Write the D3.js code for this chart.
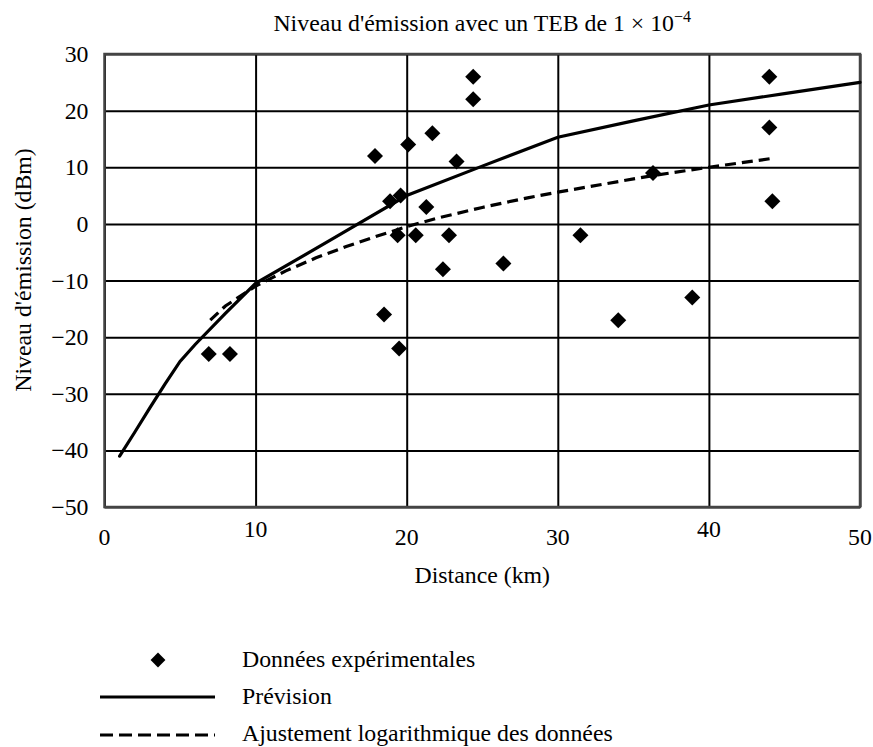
<!DOCTYPE html>
<html>
<head>
<meta charset="utf-8" />
<title>Niveau d'émission</title>
<script src="https://cdn.jsdelivr.net/npm/d3@7"></script>
<style>
  body { margin: 0; background: #fff; }
</style>
</head>
<body>
<script>
// points mesurés (km, dBm)
var mesDist = [6.9, 8.3, 17.9, 18.5, 18.9, 19.4, 19.5, 19.6, 20.1, 20.6, 21.3, 21.7, 22.4,
               22.8, 23.3, 24.4, 24.4, 26.4, 31.5, 34.0, 36.3, 38.9, 44.0, 44.0, 44.2];
var mesNiv  = [-23, -23, 12, -16, 4, -2, -22, 5, 14, -2, 3, 16, -8,
               -2, 11, 26, 22, -7, -2, -17, 9, -13, 26, 17, 4];

// courbe de prévision
var prevDist = [1, 2, 3, 4, 5, 6, 8, 10, 15, 20, 25, 30, 35, 40, 45, 50];
var prevNiv  = [-41, -36.8, -32.5, -28.3, -24.3, -21.3, -15.8, -10.5, -2.8, 5, 10.2, 15.3, 18.2, 21, 23, 25];

// ajustement logarithmique
var logDist = [7, 8, 10, 12, 14, 16, 18, 20, 22, 25, 28, 30, 33, 36, 40, 44.3];
var logNiv  = [-17, -14.5, -11, -8.3, -6, -4, -2.2, -0.5, 1, 2.9, 4.6, 5.6, 7, 8.4, 10, 11.6];

var xTicks = [0, 10, 20, 30, 40, 50];
var yTicks = [30, 20, 10, 0, -10, -20, -30, -40, -50];

var FONT = "'Liberation Serif', 'Times New Roman', Times, 'DejaVu Serif', serif";
var FS = "23.8px";

var W = 873, H = 747;
var margin = {top: 54, right: 13, bottom: 240, left: 104.5};
var width = W - margin.left - margin.right,
    height = H - margin.top - margin.bottom;

var svg = d3.select("body").append("svg")
    .attr("width", W)
    .attr("height", H)
    .style("font-family", FONT);

var g = svg.append("g")
    .attr("transform", "translate(" + margin.left + "," + margin.top + ")");

var x = d3.scaleLinear().domain([0, 50]).range([0, width]);
var y = d3.scaleLinear().domain([-50, 30]).range([height, 0]);

// grille
g.append("g")
  .call(d3.axisBottom(x).tickValues(xTicks).tickSize(height).tickFormat(""))
  .call(function(s) { s.select(".domain").remove(); })
  .selectAll("line").attr("stroke", "#000").attr("stroke-width", 2);

g.append("g")
  .call(d3.axisLeft(y).tickValues(yTicks).tickSize(-width).tickFormat(""))
  .call(function(s) { s.select(".domain").remove(); })
  .selectAll("line").attr("stroke", "#000").attr("stroke-width", 2);

g.append("rect")
  .attr("width", width).attr("height", height)
  .attr("fill", "none").attr("stroke", "#444").attr("stroke-width", 2.5);

// étiquettes des axes
var fmt = function(d) { return d < 0 ? "\u2212" + Math.abs(d) : d; };

g.selectAll(".ytick")
  .data(yTicks)
  .enter().append("text")
    .attr("x", -16)
    .attr("y", function(d) { return y(d); })
    .attr("dy", "0.34em")
    .attr("text-anchor", "end")
    .style("font-family", FONT)
    .style("font-size", FS)
    .text(fmt);

g.selectAll(".xtick")
  .data(xTicks)
  .enter().append("text")
    .attr("x", function(d) { return x(d); })
    .attr("y", function(d) { return (d == 10 || d == 40) ? height + 30 : height + 38; })
    .attr("text-anchor", "middle")
    .style("font-family", FONT)
    .style("font-size", FS)
    .text(fmt);

svg.append("text")
  .attr("x", margin.left + width / 2)
  .attr("y", 583)
  .attr("text-anchor", "middle")
  .style("font-family", FONT)
  .style("font-size", FS)
  .text("Distance (km)");

svg.append("text")
  .attr("transform", "translate(31,270)rotate(-90)")
  .attr("text-anchor", "middle")
  .style("font-family", FONT)
  .style("font-size", FS)
  .text("Niveau d'émission (dBm)");

var title = svg.append("text")
  .attr("x", margin.left + width / 2)
  .attr("y", 31)
  .attr("text-anchor", "middle")
  .style("font-family", FONT)
  .style("font-size", FS);
title.append("tspan").text("Niveau d'émission avec un TEB de 1 \u00d7 10");
title.append("tspan").attr("dy", -9).style("font-size", "16px").text("\u22124");

// courbes
var line = d3.line()
  .x(function(d) { return x(d[0]); })
  .y(function(d) { return y(d[1]); });

g.append("path")
  .datum(d3.zip(prevDist, prevNiv))
  .attr("d", line)
  .attr("fill", "none")
  .attr("stroke", "#000")
  .attr("stroke-width", 3.2)
  .attr("stroke-linecap", "round");

g.append("path")
  .datum(d3.zip(logDist, logNiv))
  .attr("d", line)
  .attr("fill", "none")
  .attr("stroke", "#000")
  .attr("stroke-width", 3.2)
  .attr("stroke-dasharray", "11,6");

// losanges
var diamond = d3.symbol().type(d3.symbolSquare).size(128);

g.selectAll(".pt")
  .data(d3.zip(mesDist, mesNiv))
  .enter().append("path")
    .attr("d", diamond)
    .attr("transform", function(d) { return "translate(" + x(d[0]) + "," + y(d[1]) + ")rotate(45)"; })
    .attr("fill", "#000");

// légende
var leg = svg.append("g");
leg.append("path")
  .attr("d", d3.symbol().type(d3.symbolSquare).size(110))
  .attr("transform", "translate(158,660)rotate(45)")
  .attr("fill", "#000");
leg.append("line")
  .attr("x1", 100).attr("x2", 215).attr("y1", 697).attr("y2", 697)
  .attr("stroke", "#000").attr("stroke-width", 3.2);
leg.append("line")
  .attr("x1", 100).attr("x2", 215).attr("y1", 735).attr("y2", 735)
  .attr("stroke", "#000").attr("stroke-width", 3.2).attr("stroke-dasharray", "13,6");

var legTexts = ["Données expérimentales", "Prévision", "Ajustement logarithmique des données"];
leg.selectAll(".lt")
  .data(legTexts)
  .enter().append("text")
    .attr("x", 242)
    .attr("y", function(d, i) { return 667 + i * 37; })
    .style("font-family", FONT)
    .style("font-size", FS)
    .text(function(d) { return d; });
</script>
</body>
</html>
